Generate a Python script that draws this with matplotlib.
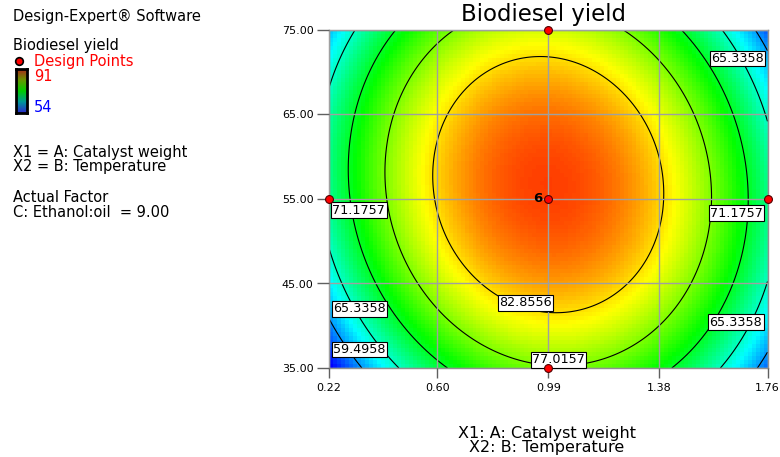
import numpy as np
import matplotlib
matplotlib.use("Agg")
import matplotlib.pyplot as plt
from matplotlib.colors import LinearSegmentedColormap

# fitted quadratic model in coded units, A = (x-0.99)/0.77, B = (y-55)/20
coef_b0 = 88.63
coef_A = 0.17
coef_B = 1.74
coef_AB = -2.03
coef_AA = -21.17
coef_BB = -10.23

x_ticks = [0.22, 0.60, 0.99, 1.38, 1.76]
y_ticks = [35.0, 45.0, 55.0, 65.0, 75.0]
levels = [59.4958, 65.3358, 71.1757, 77.0157, 82.8556]
y_min, y_max = 54, 91

# design points (catalyst weight, temperature)
pts_x = [0.99, 0.99, 0.22, 1.76, 0.99]
pts_y = [75.0, 35.0, 55.0, 55.0, 55.0]
center_reps = "6"

# where Design-Expert put the contour labels (level index, x, y)
label_pos = [
    (1, 1.654, 71.62),
    (2, 0.325, 53.68),
    (2, 1.652, 53.32),
    (4, 0.911, 42.72),
    (1, 0.326, 42.01),
    (1, 1.649, 40.44),
    (0, 0.326, 37.18),
    (3, 1.026, 35.97),
]


def model(x, y):
    a = (x - 0.99) / 0.77
    b = (y - 55.0) / 20.0
    return (coef_b0 + coef_A * a + coef_B * b + coef_AB * a * b
            + coef_AA * a ** 2 + coef_BB * b ** 2)


W, H = 780, 457
fig = plt.figure(figsize=(W / 100, H / 100), dpi=100)
plt.rcParams['font.family'] = ['DejaVu Sans']

de_cmap = LinearSegmentedColormap.from_list(
    "de", ["#0000ff", "#00ffff", "#00ff00", "#ffff00", "#ff0000"])

ax = fig.add_axes([329 / W, (H - 368) / H, 438.5 / W, 338 / H])

# blocky colour field like the original
xe = np.linspace(x_ticks[0], x_ticks[-1], 111)
ye = np.linspace(y_ticks[0], y_ticks[-1], 86)
xc = (xe[:-1] + xe[1:]) / 2
yc = (ye[:-1] + ye[1:]) / 2
XC, YC = np.meshgrid(xc, yc)
ax.pcolormesh(xe, ye, model(XC, YC), cmap=de_cmap, vmin=y_min, vmax=y_max,
              shading="flat", rasterized=True)

# smooth contour lines
xf = np.linspace(x_ticks[0], x_ticks[-1], 300)
yf = np.linspace(y_ticks[0], y_ticks[-1], 300)
XF, YF = np.meshgrid(xf, yf)
ax.contour(XF, YF, model(XF, YF), levels=levels, colors="black", linewidths=0.8)

ax.set_xlim(x_ticks[0], x_ticks[-1])
ax.set_ylim(y_ticks[0], y_ticks[-1])
ax.set_xticks(x_ticks)
ax.set_yticks(y_ticks)
ax.set_xticklabels(["%.2f" % v for v in x_ticks], fontsize=8)
ax.set_yticklabels(["%.2f" % v for v in y_ticks], fontsize=8)
ax.tick_params(axis="y", length=8.6, pad=2.5, color="#606060", width=1)
ax.tick_params(axis="x", length=7.2, pad=3.5, color="#606060", width=1)
ax.grid(True, color="#a0a0a0", lw=1)
ax.set_axisbelow(False)
for s in ax.spines.values():
    s.set_color("#909090")
    s.set_linewidth(1)

for i, lx, ly in label_pos:
    ax.text(lx, ly, "%.4f" % levels[i], fontsize=9.2, ha="center", va="center",
            bbox=dict(boxstyle="square,pad=0.1", fc="white", ec="black", lw=0.8),
            zorder=5)

ax.scatter(pts_x, pts_y, s=32, c="#ff0000", edgecolors="#500000", linewidths=0.8,
           zorder=6, clip_on=False)
ax.annotate(center_reps, (pts_x[-1], pts_y[-1]), xytext=(-4.5, 0),
            textcoords="offset points", ha="right", va="center",
            fontsize=9.5, fontweight="bold", zorder=7)

fig.text(543.5 / W, 1 - 14 / H, "Biodiesel yield", fontsize=16.5,
         ha="center", va="center")
fig.text(546.7 / W, 1 - 438 / H, "X1: A: Catalyst weight", fontsize=11.5,
         ha="center", va="baseline")
fig.text(546.7 / W, 1 - 452 / H, "X2: B: Temperature", fontsize=11.5,
         ha="center", va="baseline")

# left hand info panel
def ptext(x, y, s, **kw):
    fig.text(x / W, 1 - y / H, s, fontsize=10.5, va="baseline", **kw)

ptext(12.7, 20.7, "Design-Expert\u00ae Software")
ptext(12.7, 50, "Biodiesel yield")
ptext(34.3, 65.7, "Design Points", color="#ff0000")
ptext(34, 80.7, str(y_max), color="#ff0000")
ptext(34, 112, str(y_min), color="#0000ff")
ptext(12.7, 156.7, "X1 = A: Catalyst weight")
ptext(12.7, 171, "X2 = B: Temperature")
ptext(12.7, 201.7, "Actual Factor")
ptext(12.7, 216.7, "C: Ethanol:oil  = 9.00")

fig.lines.append(plt.Line2D([19 / W], [1 - 60.5 / H], transform=fig.transFigure,
                            marker="o", ms=5.5, mfc="#ff0000", mec="black", mew=1.2,
                            ls="none"))

leg_cmap = LinearSegmentedColormap.from_list(
    "leg", ["#2a2acc", "#009999", "#00cc00", "#669900", "#aa2a1a"])
cax = fig.add_axes([15.7 / W, (H - 113) / H, 11 / W, 44 / H])
cax.imshow(np.linspace(1, 0, 64).reshape(-1, 1), aspect="auto", cmap=leg_cmap)
cax.set_xticks([])
cax.set_yticks([])
for s in cax.spines.values():
    s.set_color("black")
    s.set_linewidth(2)

fig.savefig("out.png", dpi=100)
